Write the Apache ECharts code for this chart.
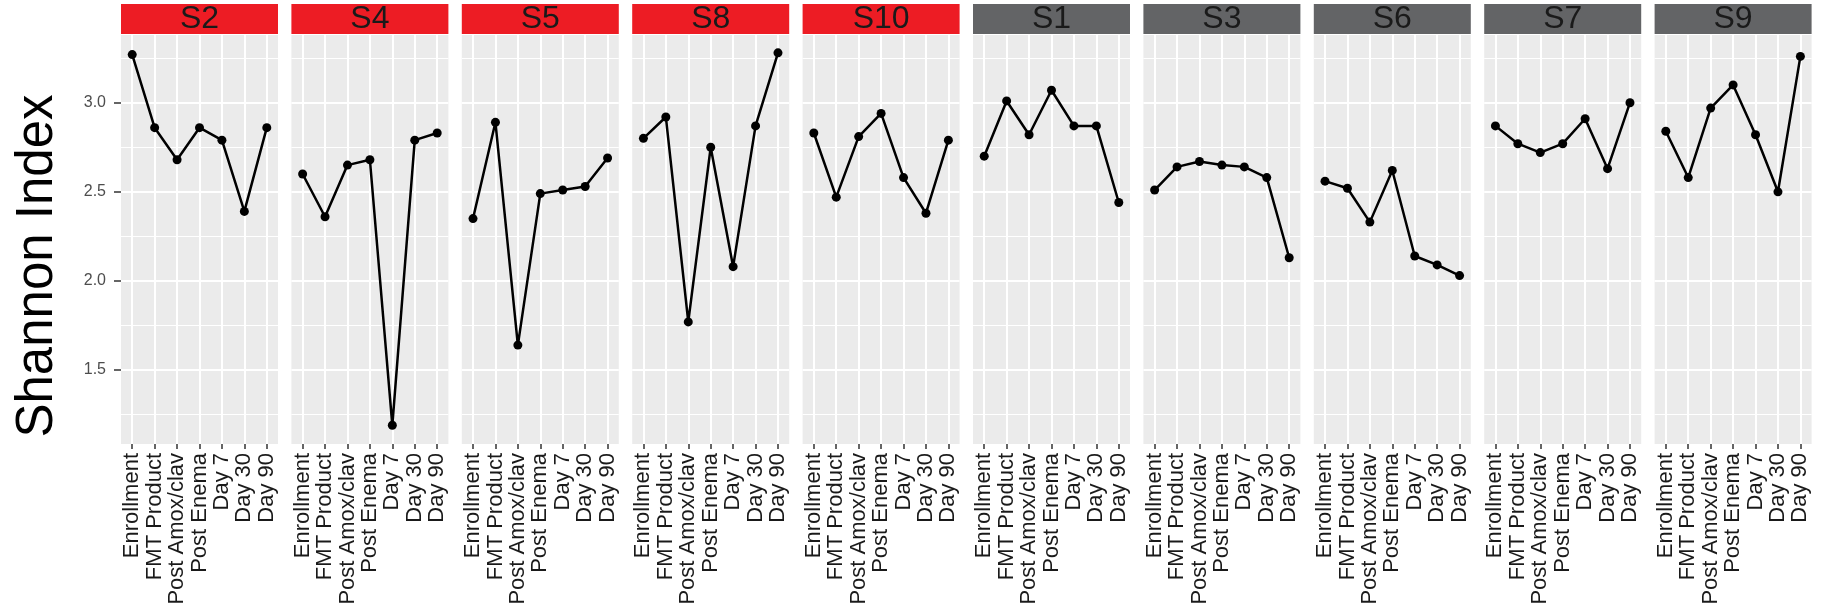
<!DOCTYPE html>
<html>
<head>
<meta charset="utf-8">
<script src="https://cdn.jsdelivr.net/npm/echarts@6/dist/echarts.min.js"></script>
<style>
  html, body {margin: 0; padding: 0; background: #fff;}
  #chart {width: 1823px; height: 610px;}
</style>
</head>
<body>
<div id="chart"></div>
<script>
// time points (x categories)
const timepoints = ['Enrollment', 'FMT Product', 'Post Amox/clav', 'Post Enema', 'Day 7', 'Day 30', 'Day 90']

// panels, in facet order
const subjects = ['S2', 'S4', 'S5', 'S8', 'S10', 'S1', 'S3', 'S6', 'S7', 'S9']
const stripGroup = ['red', 'red', 'red', 'red', 'red', 'grey', 'grey', 'grey', 'grey', 'grey']

// Shannon index per subject
const s2 = [3.27, 2.86, 2.68, 2.86, 2.79, 2.39, 2.86]
const s4 = [2.60, 2.36, 2.65, 2.68, 1.19, 2.79, 2.83]
const s5 = [2.35, 2.89, 1.64, 2.49, 2.51, 2.53, 2.69]
const s8 = [2.80, 2.92, 1.77, 2.75, 2.08, 2.87, 3.28]
const s10 = [2.83, 2.47, 2.81, 2.94, 2.58, 2.38, 2.79]
const s1 = [2.70, 3.01, 2.82, 3.07, 2.87, 2.87, 2.44]
const s3 = [2.51, 2.64, 2.67, 2.65, 2.64, 2.58, 2.13]
const s6 = [2.56, 2.52, 2.33, 2.62, 2.14, 2.09, 2.03]
const s7 = [2.87, 2.77, 2.72, 2.77, 2.91, 2.63, 3.00]
const s9 = [2.84, 2.58, 2.97, 3.10, 2.82, 2.50, 3.26]
const values = [s2, s4, s5, s8, s10, s1, s3, s6, s7, s9]

// y ticks
const yMajor = [1.5, 2.0, 2.5, 3.0]
const yMinor = [1.25, 1.75, 2.25, 2.75, 3.25]

// layout
const panelLeft = 121
const panelStep = 170.4
const panelWidth = 157
const panelTop = 35
const panelHeight = 409
const yMin = 1.085
const yMax = 3.38
const stripColors = {red: '#ed1c24', grey: '#636466'}
const font = 'Liberation Sans, Arial, Helvetica, sans-serif'

const chart = echarts.init(document.getElementById('chart'))

const grids = [], xAxes = [], yAxes = [], series = []
const graphics = [{
  // y axis title
  type: 'text', x: 38, y: 266, rotation: Math.PI / 2,
  style: {
    text: 'Shannon Index', fill: '#000', font: '51px ' + font,
    textAlign: 'center', textVerticalAlign: 'middle'
  }
}]

subjects.forEach((name, i) => {
  const left = panelLeft + i * panelStep
  grids.push({
    left: left, top: panelTop, width: panelWidth, height: panelHeight,
    show: true, backgroundColor: '#ebebeb', borderWidth: 0
  })
  xAxes.push({
    type: 'category', gridIndex: i, data: timepoints, boundaryGap: true,
    axisLine: {show: false},
    axisTick: {show: true, alignWithLabel: true, length: 5, lineStyle: {color: '#333', width: 1.5}},
    axisLabel: {interval: 0, rotate: 90, margin: 9, fontSize: 22, color: '#1a1a1a', fontFamily: font},
    splitLine: {show: false}
  })
  yAxes.push({
    type: 'value', gridIndex: i, min: yMin, max: yMax,
    axisLine: {show: false},
    axisTick: {show: i === 0, customValues: yMajor, length: 7, lineStyle: {color: '#333', width: 1.5}},
    axisLabel: {
      show: i === 0, customValues: yMajor, margin: 15, fontSize: 16, color: '#4d4d4d', fontFamily: font,
      formatter: v => v.toFixed(1)
    },
    splitLine: {show: false}
  })

  const gridLines = []
  yMinor.forEach(v => gridLines.push({yAxis: v, lineStyle: {width: 1}}))
  yMajor.forEach(v => gridLines.push({yAxis: v, lineStyle: {width: 2}}))
  timepoints.forEach(t => gridLines.push({xAxis: t, lineStyle: {width: 2}}))

  series.push({
    type: 'line', xAxisIndex: i, yAxisIndex: i, data: values[i],
    z: 3,
    symbol: 'circle', symbolSize: 9,
    itemStyle: {color: '#000'},
    lineStyle: {color: '#000', width: 2.5},
    markLine: {
      silent: true, z: 1, symbol: 'none', animation: false,
      label: {show: false},
      emphasis: {disabled: true},
      lineStyle: {color: '#fff', type: 'solid'},
      data: gridLines
    }
  })

  // facet strip
  graphics.push({
    type: 'rect', left: left, top: 4,
    shape: {width: panelWidth, height: 30},
    style: {fill: stripColors[stripGroup[i]]}
  })
  graphics.push({
    type: 'text', x: left + panelWidth / 2, y: 19,
    style: {
      text: name, fill: '#1a1a1a', font: '32px ' + font,
      textAlign: 'center', textVerticalAlign: 'middle'
    }
  })
})

chart.setOption({
  animation: false,
  backgroundColor: '#fff',
  grid: grids,
  xAxis: xAxes,
  yAxis: yAxes,
  series: series,
  graphic: graphics
})
</script>
</body>
</html>
